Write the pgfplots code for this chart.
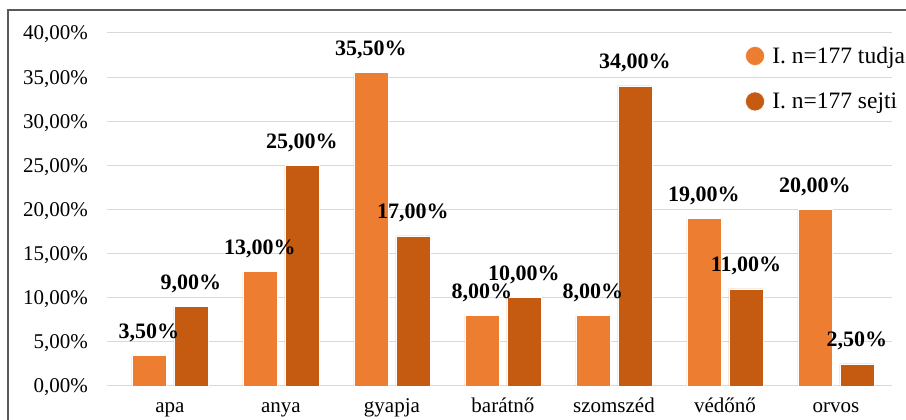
\documentclass[border=0pt]{standalone}
\usepackage{fontspec}
\setmainfont{Liberation Serif}
\usepackage{pgfplots}
\pgfplotsset{compat=1.18}
\definecolor{cA}{HTML}{ED7D31}
\definecolor{cB}{HTML}{C55A11}
\definecolor{gridc}{HTML}{D9D9D9}
\begin{document}
\begin{tikzpicture}
\path[use as bounding box] (-107pt,-34pt) rectangle (799pt,386pt);
\draw[line width=1.6pt, black!65] (-99pt,-60pt) -- (-99pt,376pt) -- (830pt,376pt);
\begin{axis}[
  at={(0pt,0pt)}, anchor=south west,
  scale only axis, width=785pt, height=353pt,
  ybar=8pt, bar width=34pt,
  xmin=-0.567, xmax=6.505, ymin=0, ymax=40,
  xtick={0,...,6},
  xticklabels={apa,anya,gyapja,barátnő,szomszéd,védőnő,orvos},
  ytick={0,5,...,40},
  /pgf/number format/assume math mode=true,
  yticklabel={\pgfmathprintnumber[fixed,fixed zerofill,precision=2,use comma]{\tick}\%},
  ymajorgrids, grid style={gridc, line width=1pt},
  axis line style={draw=none}, major tick length=0pt,
  tick label style={font=\fontsize{21}{25}\selectfont, inner sep=0pt},
  xticklabel style={anchor=base, yshift=-27pt},
  yticklabel style={anchor=base east, xshift=-19pt, yshift=-7pt},
  nodes near coords={\pgfmathprintnumber[fixed,fixed zerofill,precision=2,use comma]{\pgfplotspointmeta}\%},
  every node near coord/.append style={font=\fontsize{22}{26}\selectfont\bfseries, anchor=base, yshift=17pt, inner sep=0pt},
  legend image code/.code={\fill (0pt,0pt) circle (9.5pt); \path (15pt,0pt);},
  legend style={draw=none, fill=none, font=\fontsize{23.5}{28}\selectfont,
    at={(0.809,0.972)}, anchor=north west, row sep=24pt},
  legend cell align=left,
]
\addplot[fill=cA, draw=white, line width=0.5pt] coordinates {(0,3.5) (1,13) (2,35.5) (3,8) (4,8) (5,19) (6,20)};
\addplot[fill=cB, draw=white, line width=0.5pt] coordinates {(0,9) (1,25) (2,17) (3,10) (4,34) (5,11) (6,2.5)};
\legend{I. n=177 tudja, I. n=177 sejti}
\end{axis}
\end{tikzpicture}
\end{document}
